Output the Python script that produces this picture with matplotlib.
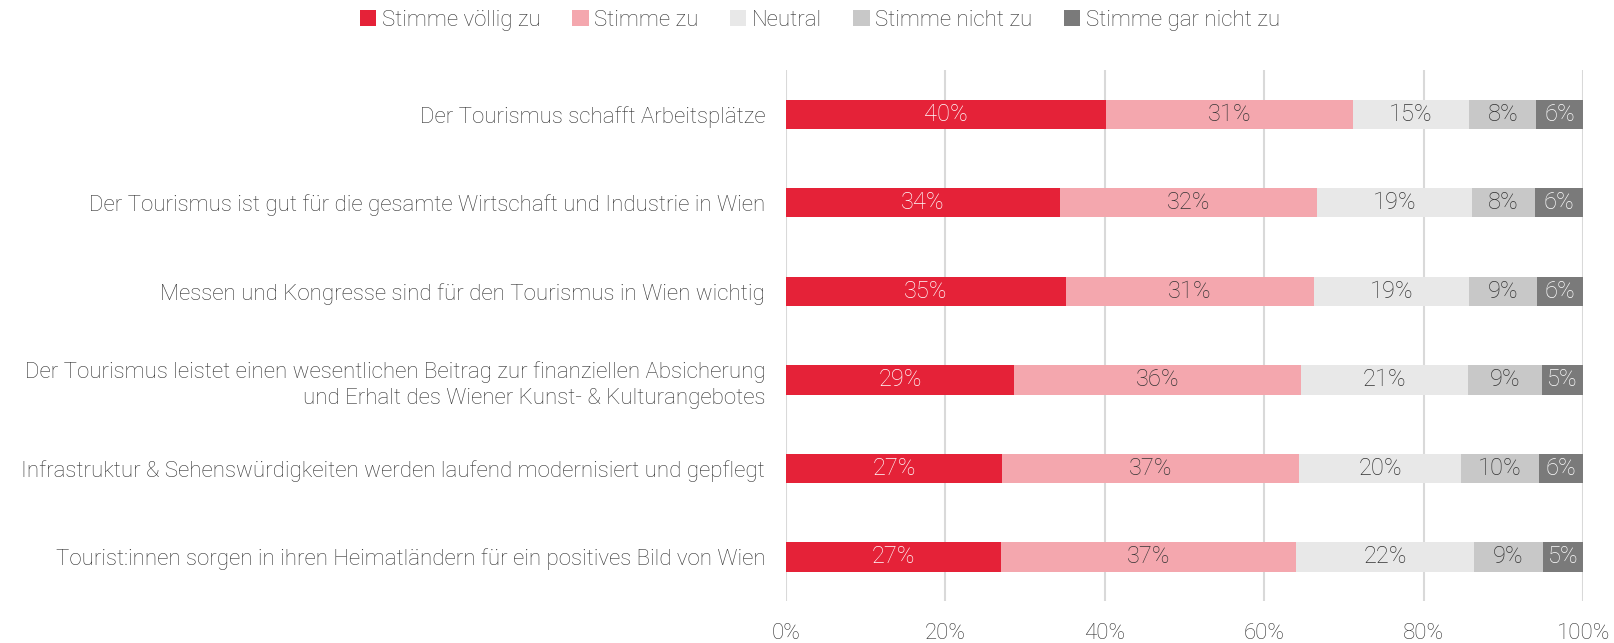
import matplotlib.pyplot as plt
import numpy as np

# survey statements (top to bottom)
statements = [
    "Der Tourismus schafft Arbeitsplätze",
    "Der Tourismus ist gut für die gesamte Wirtschaft und Industrie in Wien",
    "Messen und Kongresse sind für den Tourismus in Wien wichtig",
    "Der Tourismus leistet einen wesentlichen Beitrag zur finanziellen Absicherung\nund Erhalt des Wiener Kunst- & Kulturangebotes",
    "Infrastruktur & Sehenswürdigkeiten werden laufend modernisiert und gepflegt",
    "Tourist:innen sorgen in ihren Heimatländern für ein positives Bild von Wien",
]

categories = ["Stimme völlig zu", "Stimme zu", "Neutral", "Stimme nicht zu", "Stimme gar nicht zu"]

voellig_zu = [40.1, 34.4, 35.1, 28.6, 27.1, 27.0]
zu = [31.0, 32.2, 31.1, 36.0, 37.2, 37.0]
neutral = [14.6, 19.4, 19.4, 20.9, 20.4, 22.3]
nicht_zu = [8.4, 7.9, 8.6, 9.3, 9.7, 8.6]
gar_nicht_zu = [5.9, 6.1, 5.8, 5.2, 5.6, 5.1]

series = [voellig_zu, zu, neutral, nicht_zu, gar_nicht_zu]
colors = ["#E52238", "#F4A7AE", "#E8E8E8", "#C8C8C8", "#7A7A7A"]
text_colors = ["white", "#333333", "#333333", "#333333", "white"]

plt.rcParams['font.family'] = ['Roboto', 'DejaVu Sans']
plt.rcParams['font.weight'] = 'light'

fig = plt.figure(figsize=(16.14, 6.43), dpi=100)
ax = fig.add_axes([0.487, 0.065, 0.494, 0.826])

y = np.arange(len(statements))
left = np.zeros(len(statements))
for vals, col, tcol, name in zip(series, colors, text_colors, categories):
    vals = np.array(vals)
    ax.barh(y, vals, left=left, height=0.33, color=col, label=name, zorder=3)
    for yi, l, v in zip(y, left, vals):
        ax.text(l + v / 2, yi, f"{v:.0f}%", ha='center', va='center',
                color=tcol, fontsize=17, fontweight='light', zorder=4)
    left += vals

ax.set_xlim(0, 100)
ax.set_ylim(5.5, -0.5)
ax.set_xticks(np.arange(0, 101, 20))
ax.set_xticklabels([f"{t}%" for t in range(0, 101, 20)])
ax.set_yticks(y)
ax.set_yticklabels(statements, linespacing=1.35)
ax.tick_params(axis='both', length=0, labelsize=16, colors='#333333')
ax.tick_params(axis='x', pad=16)
ax.tick_params(axis='y', pad=15)
ax.grid(axis='x', color='#D9D9D9', linewidth=1.5, zorder=0)
for s in ax.spines.values():
    s.set_visible(False)

fig.legend(loc='center', bbox_to_anchor=(0.508, 0.968), ncol=5, frameon=False,
           fontsize=16, handlelength=0.75, handleheight=0.75, handletextpad=0.25,
           columnspacing=1.4, labelcolor='#333333')

fig.savefig("out.png", dpi=100)
